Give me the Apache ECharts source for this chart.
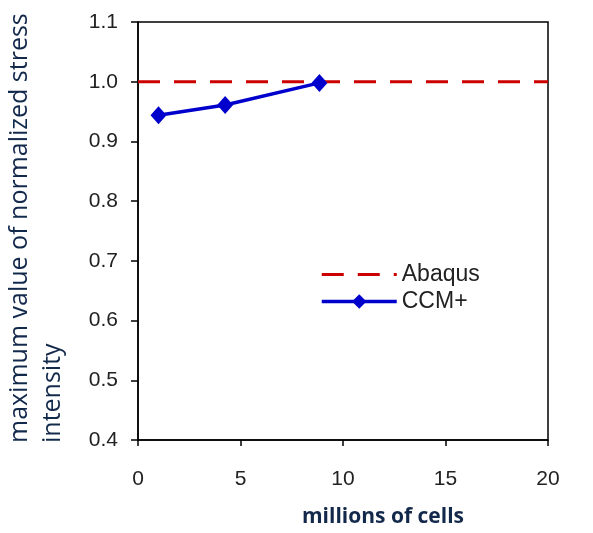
<!DOCTYPE html>
<html lang="en">
<head>
    <meta charset="UTF-8">
    <title>maximum normalized stress intensity</title>
    <script src="https://cdn.jsdelivr.net/npm/echarts@6/dist/echarts.min.js"></script>
    <style>
        html, body { margin: 0; padding: 0; background: #fff; }
    </style>
</head>
<body>
<div id="main" style="width: 593px; height: 533px;"></div>
<script>
    // data
    var abaqusX = [0, 20];
    var abaqusY = [1.0, 1.0];
    var cellsMillions = [1.0, 4.25, 8.85];
    var ccmStress = [0.944, 0.961, 0.998];
    var xTicks = [0, 5, 10, 15, 20];
    var yTicks = [0.4, 0.5, 0.6, 0.7, 0.8, 0.9, 1.0, 1.1];

    function pairs(xs, ys) {
        var out = [];
        for (var i = 0; i < xs.length; i++) out.push([xs[i], ys[i]]);
        return out;
    }

    var myChart = echarts.init(document.getElementById('main'));
    var titleColor = '#13294b';
    var labelStyle = {color: '#222', fontSize: 21, fontFamily: 'Liberation Sans, Arial'};

    var option = {
        animation: false,
        grid: {
            left: 138, right: 45, top: 22, bottom: 86,
            show: true, borderColor: '#000', borderWidth: 1.5
        },
        xAxis: {
            type: 'value',
            min: xTicks[0], max: xTicks[xTicks.length - 1], interval: 5,
            axisLine: {lineStyle: {color: '#000', width: 1.5}},
            axisTick: {show: true, length: 6, lineStyle: {color: '#000', width: 1.5}},
            axisLabel: Object.assign({margin: 29}, labelStyle),
            splitLine: {show: false},
            name: 'millions of cells',
            nameLocation: 'middle',
            nameGap: 67,
            nameTextStyle: {
                color: titleColor, fontSize: 21, fontWeight: 'bold',
                fontFamily: 'Open Sans, Noto Sans', padding: [0, 0, 0, 80]
            }
        },
        yAxis: {
            type: 'value',
            min: yTicks[0], max: yTicks[yTicks.length - 1], interval: 0.1,
            axisLine: {lineStyle: {color: '#000', width: 1.5}},
            axisTick: {show: true, length: 7, lineStyle: {color: '#000', width: 1.5}},
            axisLabel: Object.assign({
                margin: 20,
                formatter: function (v) { return v.toFixed(1); }
            }, labelStyle),
            splitLine: {show: false}
        },
        legend: {
            orient: 'vertical',
            left: 315, top: 258,
            itemWidth: 75, itemHeight: 18, itemGap: 4,
            textStyle: {color: '#222', fontSize: 23, fontFamily: 'Liberation Sans, Arial'},
            data: [
                {name: 'Abaqus', itemStyle: {opacity: 0}, lineStyle: {width: 3}},
                {name: 'CCM+', lineStyle: {width: 3.5}}
            ]
        },
        graphic: [{
            type: 'text',
            x: 36, y: 443,
            rotation: Math.PI / 2,
            style: {
                text: 'maximum value of normalized stress\nintensity',
                fill: titleColor,
                fontSize: 25,
                lineHeight: 33,
                fontFamily: 'Open Sans, Noto Sans',
                align: 'left',
                verticalAlign: 'middle'
            }
        }],
        series: [{
            name: 'Abaqus',
            type: 'line',
            data: pairs(abaqusX, abaqusY),
            symbol: 'none',
            lineStyle: {color: '#cc0000', width: 3, type: [22, 14]},
            itemStyle: {color: '#cc0000'},
            z: 3
        }, {
            name: 'CCM+',
            type: 'line',
            data: pairs(cellsMillions, ccmStress),
            symbol: 'diamond',
            symbolSize: [16, 18],
            lineStyle: {color: '#0000cc', width: 3.5},
            itemStyle: {color: '#0000cc'},
            z: 4
        }]
    };
    myChart.setOption(option);
</script>
</body>
</html>
